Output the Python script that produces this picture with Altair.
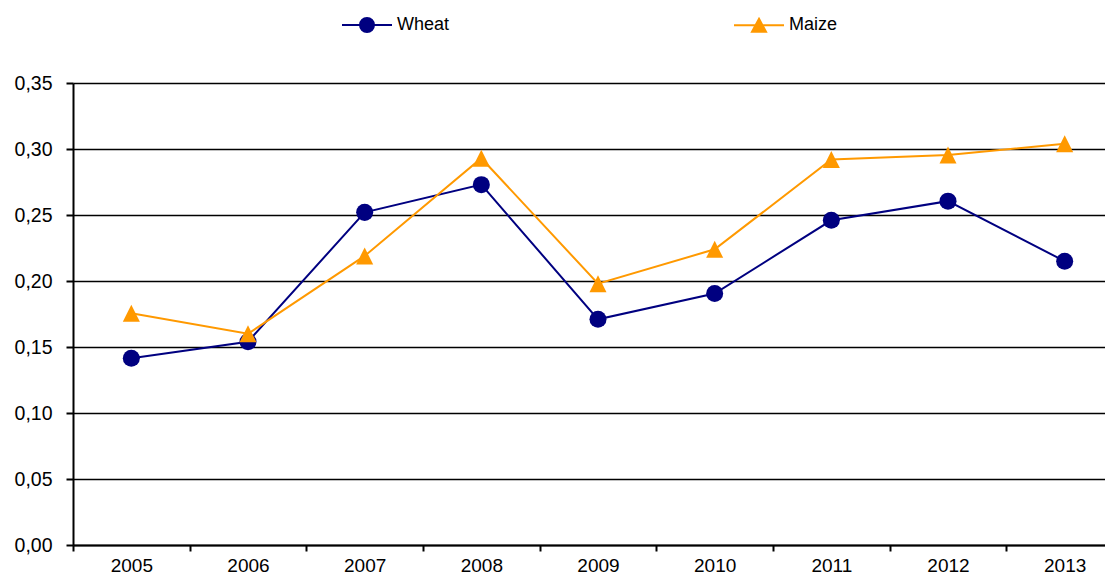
import altair as alt
import pandas as pd

years = ["2005", "2006", "2007", "2008", "2009", "2010", "2011", "2012", "2013"]
wheat = [0.1415, 0.154, 0.252, 0.273, 0.171, 0.1905, 0.246, 0.2605, 0.215]
maize = [0.1755, 0.160, 0.219, 0.293, 0.198, 0.224, 0.292, 0.2955, 0.304]
series = ["Wheat", "Maize"]
colors = ["#000080", "#FF9900"]
y_ticks = [0.0, 0.05, 0.10, 0.15, 0.20, 0.25, 0.30, 0.35]

df = pd.DataFrame({
    "year": years * 2,
    "series": ["Wheat"] * len(years) + ["Maize"] * len(years),
    "value": wheat + maize,
})

FONT = "Liberation Sans"
TRI = "M0,-1L1,1L-1,1Z"
LEG_W = "M-1,0H1M-0.28,0A0.28,0.28 0 1,1 0.28,0A0.28,0.28 0 1,1 -0.28,0Z"
LEG_M = "M-1,0H1M0,-0.26L0.28,0.26L-0.28,0.26Z"

x_enc = alt.X(
    "year:O",
    sort=years,
    bandPosition=0.5,
    scale=alt.Scale(type="band", paddingInner=0, paddingOuter=0),
    axis=alt.Axis(
        title=None, labelAngle=0, tickBand="extent", grid=False,
        domainColor="black", domainWidth=2, tickColor="black", tickWidth=2,
        tickSize=6, labelFont=FONT, labelFontSize=19, labelColor="black",
        labelPadding=5,
    ),
)
y_enc = alt.Y(
    "value:Q",
    scale=alt.Scale(domain=[0, 0.35], nice=False, zero=True),
    axis=alt.Axis(
        title=None, values=y_ticks,
        labelExpr="replace(format(datum.value, '.2f'), '.', ',')",
        grid=True, gridColor="black", gridWidth=1.5,
        domainColor="black", domainWidth=2, tickColor="black", tickWidth=2,
        tickSize=7, labelFont=FONT, labelFontSize=19.5, labelColor="black",
        labelPadding=14,
    ),
)

leg_props = dict(
    title=None, orient="none", legendX=268, legendY=-84, direction="horizontal",
    columns=2, columnPadding=280, labelOffset=4, labelFont=FONT, labelFontSize=18,
    labelColor="black", symbolSize=2500, symbolStrokeWidth=2, symbolOpacity=1,
    padding=0,
)
stroke_enc = alt.Stroke("series:N", scale=alt.Scale(domain=series, range=colors),
                        legend=alt.Legend(**leg_props))
fill_enc = alt.Fill("series:N", scale=alt.Scale(domain=series, range=colors),
                    legend=alt.Legend(**leg_props))
shape_enc = alt.Shape("series:N", scale=alt.Scale(domain=series, range=[LEG_W, LEG_M]),
                      legend=alt.Legend(**leg_props))

base = alt.Chart(df)

def layers_for(name, shape):
    d = base.transform_filter(alt.datum.series == name)
    line = d.mark_line(strokeWidth=2).encode(x=x_enc, y=y_enc, stroke=stroke_enc)
    pts = d.mark_point(filled=True, opacity=1, size=290, shape=shape,
                       strokeWidth=0).encode(x=x_enc, y=y_enc, fill=fill_enc)
    return [line, pts]

legend_layer = base.mark_point(filled=True, size=0, strokeWidth=2, opacity=1).encode(
    x=x_enc, y=y_enc, fill=fill_enc, stroke=stroke_enc, shape=shape_enc,
)

chart = alt.layer(
    *layers_for("Wheat", "circle"),
    *layers_for("Maize", TRI),
    legend_layer,
).properties(
    width=1050, height=462,
    padding={"left": 65, "top": 75, "right": -18, "bottom": 29},
    autosize=alt.AutoSizeParams(type="none"),
).configure_view(stroke=None).configure(background="white")

chart.save("out.html", embed_options={"renderer": "svg", "actions": False})
